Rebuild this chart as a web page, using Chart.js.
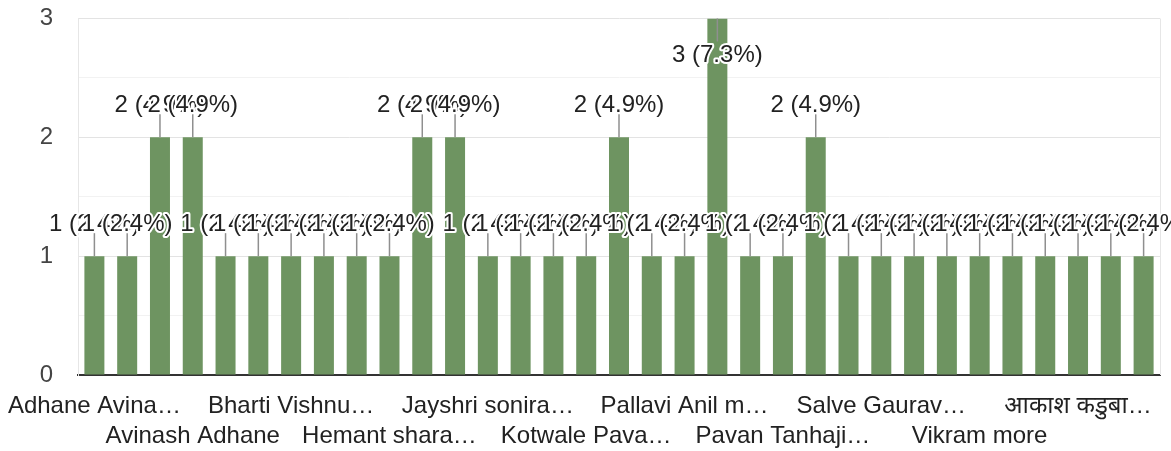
<!DOCTYPE html>
<html>
<head>
<meta charset="utf-8">
<script src="https://cdn.jsdelivr.net/npm/chart.js@4"></script>
<style>
  body { margin: 0; background: #fff; }
  #wrap { width: 1171px; height: 451px; position: relative; }
</style>
</head>
<body>
<div id="wrap"><canvas id="responsesChart"></canvas></div>
<script>
// names of respondents (only every third one is readable in the picture)
const categories = [
  "Adhane Avina…", "", "",
  "Avinash Adhane", "", "",
  "Bharti Vishnu…", "", "",
  "Hemant shara…", "", "",
  "Jayshri sonira…", "", "",
  "Kotwale Pava…", "", "",
  "Pallavi Anil m…", "", "",
  "Pavan Tanhaji…", "", "",
  "Salve Gaurav…", "", "",
  "Vikram more", "", "",
  "आकाश कडुबा…", "", "",
];
const counts = [
  1, 1, 2, 2, 1, 1, 1, 1, 1, 1, 2,
  2, 1, 1, 1, 1, 2, 1, 1, 3, 1, 1,
  2, 1, 1, 1, 1, 1, 1, 1, 1, 1, 1,
];
const yTicks = [0, 1, 2, 3];

const FONT = '"Liberation Sans", Arial, "Noto Sans", sans-serif';
const total = counts.reduce((a, b) => a + b, 0);

// value labels with leader lines and white halo (like google forms)
const valueLabels = {
  id: "valueLabels",
  afterDatasetsDraw(chart) {
    const { ctx, chartArea } = chart;
    const bars = chart.getDatasetMeta(0).data;
    const spots = bars.map((bar, i) => {
      const top = bar.y;
      const above = top - 45 > chartArea.top - 5;
      return {
        x: bar.x,
        top: top,
        lineEnd: above ? top - 23 : top + 23,
        textY: above ? top - 32 : top + 37,
        text: `${counts[i]} (${((counts[i] / total) * 100).toFixed(1)}%)`,
      };
    });

    ctx.save();
    ctx.strokeStyle = "#8f8f8f";
    ctx.lineWidth = 1.5;
    spots.forEach((s) => {
      ctx.beginPath();
      ctx.moveTo(s.x, s.top);
      ctx.lineTo(s.x, s.lineEnd);
      ctx.stroke();
    });

    ctx.font = `24px ${FONT}`;
    ctx.textAlign = "center";
    ctx.textBaseline = "middle";
    ctx.lineJoin = "round";
    spots.forEach((s) => {
      ctx.lineWidth = 4;
      ctx.strokeStyle = "#fff";
      ctx.strokeText(s.text, s.x, s.textY);
      ctx.fillStyle = "#222";
      ctx.fillText(s.text, s.x, s.textY);
    });
    ctx.restore();
  },
};

// light frame line on the right side of the plot
const rightEdge = {
  id: "rightEdge",
  beforeDatasetsDraw(chart) {
    const { ctx, chartArea } = chart;
    ctx.save();
    ctx.strokeStyle = "#e6e6e6";
    ctx.lineWidth = 1;
    ctx.beginPath();
    ctx.moveTo(chartArea.right + 0.5, chartArea.top);
    ctx.lineTo(chartArea.right + 0.5, chartArea.bottom);
    ctx.stroke();
    ctx.restore();
  },
};

const ctx = document.getElementById("responsesChart").getContext("2d");
new Chart(ctx, {
  type: "bar",
  data: {
    labels: categories,
    datasets: [
      {
        data: counts,
        backgroundColor: "#6e9461",
        barPercentage: 0.61,
        categoryPercentage: 1,
      },
    ],
  },
  options: {
    responsive: true,
    maintainAspectRatio: false,
    animation: false,
    layout: { padding: { top: 18.5, right: 11, left: 0, bottom: 0 } },
    plugins: {
      legend: { display: false },
      tooltip: { enabled: false },
    },
    scales: {
      x: {
        afterFit: (scale) => {
          scale.height = 76;
          scale.paddingLeft = 0;
          scale.paddingRight = 0;
        },
        grid: { display: false },
        border: { display: true, color: "#333", width: 2 },
        ticks: {
          autoSkip: false,
          maxRotation: 0,
          minRotation: 0,
          padding: 9,
          color: "#222",
          font: { family: FONT, size: 24, lineHeight: 1.22 },
          callback: function (value, index) {
            if (index % 3 !== 0) return "";
            const label = categories[index];
            return (index / 3) % 2 === 0 ? label : ["", label];
          },
        },
      },
      y: {
        min: 0,
        max: yTicks[yTicks.length - 1],
        afterFit: (scale) => {
          scale.width = 78;
          scale.paddingTop = 0;
          scale.paddingBottom = 0;
        },
        border: { display: true, color: "#e6e6e6", width: 1 },
        grid: {
          drawTicks: false,
          color: (c) => (c.tick.value % 1 === 0 ? "#e3e3e3" : "#f2f2f2"),
        },
        ticks: {
          stepSize: 0.5,
          padding: 25,
          color: "#444",
          font: { family: FONT, size: 24 },
          callback: (v) => (yTicks.includes(v) ? v : ""),
        },
      },
    },
  },
  plugins: [valueLabels, rightEdge],
});
</script>
</body>
</html>
